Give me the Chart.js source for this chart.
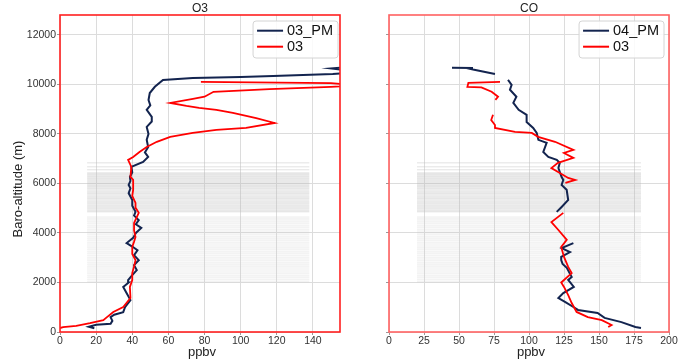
<!DOCTYPE html>
<html>
<head>
<meta charset="utf-8">
<script src="https://cdn.jsdelivr.net/npm/chart.js@4.4.1/dist/chart.umd.min.js"></script>
<style>
  html, body { margin: 0; padding: 0; background: #ffffff; }
  #wrap { position: relative; width: 690px; height: 361px; }
  #c1 { position: absolute; left: 0; top: 0; }
  #c2 { position: absolute; left: 345px; top: 0; }
</style>
</head>
<body>
<div id="wrap">
  <canvas id="c1" width="345" height="361"></canvas>
  <canvas id="c2" width="345" height="361"></canvas>
</div>
<script>
// ---------------- DATA ----------------
const yTicks = [0, 2000, 4000, 6000, 8000, 10000, 12000];
const xTicksO3 = [0, 20, 40, 60, 80, 100, 120, 140];
const xTicksCO = [0, 25, 50, 75, 100, 125, 150, 175, 200];

// O3 panel, O3_PM (navy)
const o3pmVal = [19, 16, 20, 28, 29, 28, 30, 35, 36, 39, 37, 35, 38, 37.7, 40, 42.5, 41, 43.6, 41, 42.9, 40, 36.9, 40.5, 42, 45, 42, 43.6, 41, 41.8, 40, 40, 38, 39, 38, 39, 38.7, 40, 39.5, 46, 48.8, 47, 48.8, 48, 49, 48, 50.8, 50.8, 48, 50, 49, 49.7, 52.5, 57, 73.5, 100, 118, 151, 165, 160, 150, 155];
const o3pmAlt = [150, 210, 290, 330, 450, 600, 700, 800, 1000, 1290, 1550, 1820, 2000, 2100, 2300, 2500, 2700, 2900, 3100, 3300, 3450, 3590, 3800, 4000, 4200, 4350, 4520, 4700, 4850, 5100, 5330, 5610, 5800, 5940, 6100, 6260, 6450, 6670, 6870, 7070, 7250, 7470, 7760, 8000, 8280, 8500, 8690, 8970, 9150, 9370, 9650, 9900, 10180, 10260, 10300, 10340, 10420, 10480, 10550, 10640, 10670];

// O3 panel, O3 (red)
const o3Val = [0, 1.7, 9, 16.6, 24, 26, 29.5, 35, 39, 38.7, 40, 40, 41, 41.8, 40, 40, 41, 41.8, 41, 41, 43.6, 42, 41.8, 40, 40.5, 40.5, 39, 39.5, 37.7, 40.5, 44, 48, 53.6, 61, 73.5, 86.6, 103, 118.8, 108.6, 95.7, 86.6, 77, 70, 61, 73.6, 80, 85, 116, 150, 165, 150, 78];
const o3Alt = [160, 200, 250, 360, 480, 600, 810, 1010, 1370, 1820, 2100, 2380, 2650, 2900, 3150, 3430, 3650, 3840, 4100, 4400, 4810, 5000, 5210, 5500, 5740, 6140, 6260, 6670, 6950, 7070, 7270, 7470, 7680, 7880, 8040, 8160, 8240, 8440, 8640, 8850, 8970, 9050, 9130, 9250, 9410, 9500, 9700, 9810, 9900, 9950, 10050, 10100];

// CO panel, 04_PM (navy) - null = gap
const copmVal = [180, 176, 166, 154, 149, 135, 131.7, 126, 121, 124.5, 132, 128, 130.5, 127, 124, 123, 123, 129.3, 123.3, 131.7, null, 119.8, 123.3, 128, 126.9, 123.3, 124.5, 123.3, 121, 122, 119.8, 113.8, 110.2, 112.6, 106.7, 105.5, 103, 98.3, 98.3, 92.6, 88.8, 91, 86.4, 87.6, 85, null, 75.7, 60, 57, 60, 45];
const copmAlt = [160, 200, 400, 570, 770, 890, 1010, 1210, 1370, 1570, 1820, 2100, 2220, 2590, 2750, 2900, 3030, 3230, 3390, 3590, null, 4850, 5050, 5330, 5740, 5940, 6140, 6260, 6620, 6830, 6950, 7070, 7270, 7640, 7760, 8040, 8240, 8480, 8770, 8970, 9250, 9500, 9780, 9980, 10180, null, 10420, 10600, 10640, 10660, 10666];

// CO panel, 03 (red) - null = gap
const coVal = [156.6, 159, 152, 142, 134, 130.5, 128, 125, 123, 130.5, 128, 125, 123, 127, 121, 116, 124.5, null, 126, 133, 128, 122, 116, 120.7, 131.7, 125, 131.7, 118.6, 106.5, 102, 90, 75.7, 75.7, 73, 74.3, null, 76, 77.9, 73.3, 66, 56, 56.7, 79.3];
const coAlt = [200, 280, 480, 600, 810, 1170, 1490, 1820, 2000, 2380, 2630, 3030, 3430, 3720, 4120, 4440, 4810, null, 6020, 6140, 6220, 6420, 6620, 6830, 7030, 7230, 7350, 7680, 7880, 8040, 8080, 8240, 8360, 8560, 8770, null, 9370, 9500, 9700, 9880, 9900, 10060, 10100];

// grey horizontal band levels (m)
const bandTop = [6830, 6670, 6550];
const bandDense = [6430, 6390, 6350, 6300, 6260, 6210, 6170, 6120, 6080, 6030, 5990, 5940, 5900, 5850, 5800, 5760, 5700, 5650, 5600, 5560, 5500, 5450, 5400, 5360, 5300, 5250, 5200, 5150, 5100, 5050, 5000, 4950, 4900, 4860];
const bandLight = [4640, 4580, 4520, 4450, 4380, 4300, 4230, 4150, 4080, 4000, 3930, 3850, 3780, 3700, 3620, 3550, 3470, 3400, 3330, 3250, 3180, 3100, 3020, 2950, 2880, 2800, 2730, 2650, 2580, 2500, 2420, 2350, 2270, 2200, 2120, 2040];
const bandO3 = [15, 138];
const bandCO = [20, 180];

// ---------------- HELPERS ----------------
const FONT = "'Liberation Sans', Arial, sans-serif";
const NAVY = '#13244f';
const RED = '#ff0000';

function pts(vals, alts) {
  return vals.map((v, i) => (v === null || alts[i] === null) ? {x: null, y: null} : {x: v, y: alts[i]});
}

function bandSets(ext) {
  const out = [];
  const add = (arr, color, w) => arr.forEach(a => out.push({
    label: '', data: [{x: ext[0], y: a}, {x: ext[1], y: a}],
    borderColor: color, borderWidth: w, pointRadius: 0, showLine: true, inLegend: false
  }));
  add(bandTop, 'rgba(190,190,190,0.45)', 1);
  add(bandDense, 'rgba(190,190,190,0.28)', 1.5);
  add(bandLight, 'rgba(200,200,200,0.22)', 1.5);
  return out;
}

const decorPlugin = {
  id: 'decor',
  afterDatasetsDraw(chart, args, opts) {
    const ctx = chart.ctx, ca = chart.chartArea;
    ctx.save();
    ctx.strokeStyle = opts.frameColor;
    ctx.lineWidth = 1.6;
    ctx.strokeRect(ca.left, ca.top, ca.right - ca.left, ca.bottom - ca.top);
    const items = chart.data.datasets.filter(d => d.inLegend).sort((a, b) => a.legendIndex - b.legendIndex);
    ctx.font = '14.5px ' + FONT;
    let tw = 0;
    items.forEach(d => { tw = Math.max(tw, ctx.measureText(d.label).width); });
    const bw = 4 + 26 + 4 + tw + 5;
    const bx = ca.right - opts.legendInset - bw, by = ca.top + 6, bh = 37;
    ctx.beginPath();
    ctx.roundRect(bx, by, bw, bh, 3);
    ctx.fillStyle = 'rgba(255,255,255,0.85)';
    ctx.fill();
    ctx.strokeStyle = '#d4d4d4';
    ctx.lineWidth = 1;
    ctx.stroke();
    items.forEach((d, i) => {
      const yy = by + 9.7 + i * 16;
      ctx.strokeStyle = d.borderColor;
      ctx.lineWidth = 2;
      ctx.beginPath();
      ctx.moveTo(bx + 4, yy);
      ctx.lineTo(bx + 30, yy);
      ctx.stroke();
      ctx.fillStyle = '#111';
      ctx.textAlign = 'left';
      ctx.textBaseline = 'middle';
      ctx.fillText(d.label, bx + 34, yy + 0.5);
    });
    ctx.restore();
  },
  afterDraw(chart, args, opts) {
    const ctx = chart.ctx, ca = chart.chartArea;
    ctx.save();
    ctx.fillStyle = '#222';
    ctx.textAlign = 'center';
    ctx.textBaseline = 'middle';
    ctx.font = '12px ' + FONT;
    ctx.fillText(opts.title, (ca.left + ca.right) / 2, 9);
    ctx.font = '13px ' + FONT;
    ctx.fillText(opts.xTitle, (ca.left + ca.right) / 2 + 2, 352);
    if (opts.yTitle) {
      ctx.translate(18, 189);
      ctx.rotate(-Math.PI / 2);
      ctx.font = '13px ' + FONT;
      ctx.fillText(opts.yTitle, 0, 0);
    }
    ctx.restore();
  }
};

function makeChart(id, cfg) {
  const datasets = [
    {label: cfg.redLabel, data: pts(cfg.redVal, cfg.redAlt), borderColor: RED, borderWidth: 1.8, pointRadius: 0, showLine: true, spanGaps: false, inLegend: true, legendIndex: 1},
    {label: cfg.navyLabel, data: pts(cfg.navyVal, cfg.navyAlt), borderColor: NAVY, borderWidth: 2, pointRadius: 0, showLine: true, spanGaps: false, inLegend: true, legendIndex: 0}
  ].concat(bandSets(cfg.band));
  return new Chart(document.getElementById(id), {
    type: 'scatter',
    data: {datasets},
    plugins: [decorPlugin],
    options: {
      responsive: false,
      animation: false,
      devicePixelRatio: 1,
      layout: {padding: {top: 15, right: cfg.padRight, left: 0, bottom: 0}},
      plugins: {
        legend: {display: false},
        tooltip: {enabled: false},
        title: {display: false},
        decor: {frameColor: cfg.frameColor, legendInset: cfg.legendInset, title: cfg.title, xTitle: 'ppbv', yTitle: cfg.yTitle}
      },
      elements: {line: {tension: 0}},
      scales: {
        x: {
          type: 'linear', min: 0, max: cfg.xMax,
          afterBuildTicks: s => { s.ticks = cfg.xTicks.map(v => ({value: v})); },
          afterFit: s => { s.height = 29; },
          border: {display: false},
          grid: {color: '#dcdcdc', lineWidth: 1, tickLength: 3, tickColor: '#999'},
          ticks: {font: {family: FONT, size: 10.5}, color: '#333', padding: 0, maxRotation: 0, autoSkip: false, callback: v => String(v)}
        },
        y: {
          type: 'linear', min: 0, max: 12800,
          afterBuildTicks: s => { s.ticks = yTicks.map(v => ({value: v})); },
          afterFit: s => { s.width = cfg.yWidth; },
          border: {display: false},
          grid: {color: '#dcdcdc', lineWidth: 1, tickLength: 3, tickColor: '#999'},
          ticks: {display: cfg.showYLabels, font: {family: FONT, size: 10.5}, color: '#333', padding: 1, autoSkip: false, callback: v => String(v)}
        }
      }
    }
  });
}

makeChart('c1', {
  title: 'O3', yTitle: 'Baro-altitude (m)',
  navyLabel: '03_PM', navyVal: o3pmVal, navyAlt: o3pmAlt,
  redLabel: '03', redVal: o3Val, redAlt: o3Alt,
  band: bandO3, xMax: 155, xTicks: xTicksO3,
  yWidth: 60, padRight: 5, showYLabels: true,
  frameColor: '#ff2020', legendInset: 2
});
makeChart('c2', {
  title: 'CO', yTitle: null,
  navyLabel: '04_PM', navyVal: copmVal, navyAlt: copmAlt,
  redLabel: '03', redVal: coVal, redAlt: coAlt,
  band: bandCO, xMax: 200, xTicks: xTicksCO,
  yWidth: 44, padRight: 21, showYLabels: false,
  frameColor: '#ff6262', legendInset: 5
});
</script>
</body>
</html>
